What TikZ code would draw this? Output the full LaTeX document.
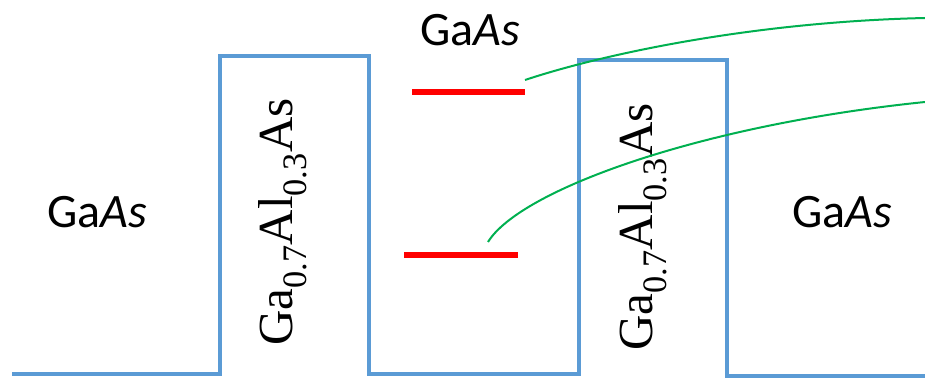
\documentclass[tikz,border=0pt]{standalone}
\usepackage{fontspec}
\setmainfont{Carlito}
\newfontfamily\layerfont{Liberation Serif}
\usepackage{tikz}
\usetikzlibrary{
    positioning,
    calc
}
\definecolor{bandblue}{HTML}{5B9BD5}
\definecolor{wavegreen}{HTML}{00B050}
\tikzset{
    band/.style={
        draw=bandblue,
        line width=4pt,
        line join=miter
    }
}
\tikzset{
    level/.style={
        draw=red,
        line width=6pt
    }
}
\tikzset{
    wave/.style={
        draw=wavegreen,
        line width=2pt
    }
}
\tikzset{
    material/.style={
        font=\fontsize{48}{50}\selectfont,
        inner sep=0pt
    }
}
\tikzset{
    barrier/.style={
        font=\layerfont\fontsize{49}{50}\selectfont,
        rotate=90,
        inner sep=0pt
    }
}

\begin{document}
\begin{tikzpicture}[x=1pt, y=-1pt]

\useasboundingbox (0,0) rectangle (925,379);

% ------------------------------------------------------------
% Band profile
% ------------------------------------------------------------

\draw[band] (12,374) -- (220,374) -- (220,56) -- (369,56) -- (369,374)
    -- (579,374) -- (579,60) -- (727,60) -- (727,376) -- (925,376);

% ------------------------------------------------------------
% Layers
% ------------------------------------------------------------

\node[material] (left) at (97,212) {Ga\textit{As}};
\node[material] (well) at (470,30) {Ga\textit{As}};
\node[material] (right) at (842,212) {Ga\textit{As}};

\node[barrier] (barA) at (283,222) {Ga\textsubscript{0.7}Al\textsubscript{0.3}As};
\node[barrier] (barB) at (643,227) {Ga\textsubscript{0.7}Al\textsubscript{0.3}As};

% ------------------------------------------------------------
% Bound states
% ------------------------------------------------------------

\coordinate (upA) at (412,92);
\coordinate (upB) at (525,92);
\coordinate (loA) at (404,255);
\coordinate (loB) at (518,255);
\draw[level] (upA) -- (upB);
\draw[level] (loA) -- (loB);

% ------------------------------------------------------------
% Wave function leaders
% ------------------------------------------------------------

\coordinate (upStart) at (525,80);
\coordinate (upEnd) at (925,18);
\coordinate (loStart) at (488,242);
\coordinate (loEnd) at (925,102);

\draw[wave] (upStart) .. controls (600,55) and (750,22) .. (upEnd);
\draw[wave] (loStart) .. controls (520,190) and (700,125) .. (loEnd);

\end{tikzpicture}
\end{document}
